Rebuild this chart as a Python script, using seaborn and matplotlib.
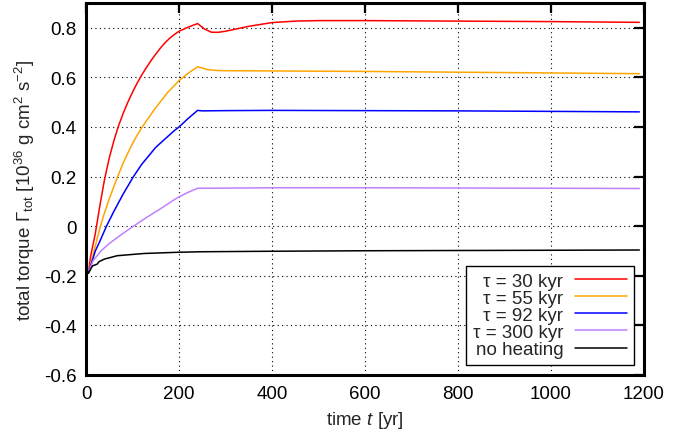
import pandas as pd
import seaborn as sns
import matplotlib.pyplot as plt

# values (time in yr, torque in 1e36 g cm^2 s^-2)
t_red = [0, 5, 10, 20, 30, 40, 50, 60, 70, 80, 90, 100, 110, 120, 130, 140, 150, 160,
         170, 180, 190, 200, 220, 240, 255, 270, 285, 300, 350, 400, 450, 500, 600, 800,
         1000, 1190]
v_red = [-0.16, -0.19, -0.12, -0.03, 0.085, 0.19, 0.275, 0.345, 0.405, 0.455, 0.50, 0.54,
         0.577, 0.61, 0.64, 0.668, 0.694, 0.718, 0.74, 0.758, 0.773, 0.786, 0.803, 0.817,
         0.795, 0.782, 0.782, 0.786, 0.806, 0.821, 0.827, 0.829, 0.829, 0.827, 0.825,
         0.822]

t_orange = [0, 5, 20, 31, 40, 50, 60, 67, 80, 90, 100, 110, 121, 132, 150, 175, 200, 220,
            240, 250, 260, 280, 300, 400, 600, 800, 1000, 1190]
v_orange = [-0.16, -0.19, -0.08, 0.0, 0.055, 0.11, 0.16, 0.195, 0.255, 0.295, 0.333,
            0.367, 0.40, 0.43, 0.478, 0.538, 0.587, 0.617, 0.643, 0.638, 0.632, 0.628,
            0.627, 0.626, 0.624, 0.621, 0.618, 0.615]

t_blue = [0, 5, 20, 30, 44, 60, 80, 102, 120, 150, 189, 200, 220, 240,
          250, 300, 400, 600, 800, 1000, 1190]
v_blue = [-0.16, -0.19, -0.10, -0.06, 0.0, 0.06, 0.13, 0.20, 0.25, 0.318, 0.384, 0.40,
          0.435, 0.467, 0.465, 0.466, 0.467, 0.466, 0.465, 0.463, 0.461]

t_purple = [0, 5, 15, 32, 50, 75, 102, 130, 160, 189, 200, 220, 240, 260,
            400, 600, 800, 1000, 1190]
v_purple = [-0.12, -0.19, -0.14, -0.10, -0.07, -0.035, 0.0, 0.035, 0.07, 0.106, 0.118,
            0.137, 0.153, 0.153, 0.155, 0.155, 0.154, 0.153, 0.152]

t_black = [0, 5, 14, 24, 28, 39, 67, 125, 200, 250, 400, 600, 800, 1000, 1190]
v_black = [-0.16, -0.19, -0.16, -0.153, -0.143, -0.133, -0.119, -0.11, -0.105, -0.103,
           -0.101, -0.099, -0.098, -0.097, -0.096]

labels = ["τ = 30 kyr", "τ = 55 kyr", "τ = 92 kyr", "τ = 300 kyr", "no heating"]
colors = ["#ff0000", "#ffa500", "#0000ff", "#bf80ff", "#000000"]
series = [(t_red, v_red), (t_orange, v_orange), (t_blue, v_blue),
          (t_purple, v_purple), (t_black, v_black)]

sns.set_theme(style="white")
plt.rcParams['font.family'] = ['Liberation Sans', 'DejaVu Sans']
plt.rcParams['mathtext.fontset'] = 'custom'
plt.rcParams['mathtext.rm'] = 'Liberation Sans'
plt.rcParams['mathtext.it'] = 'Liberation Sans:italic'

fs = 13.5

fig = plt.figure(figsize=(6.91, 4.39), dpi=100)
ax = fig.add_axes([86 / 691, 63 / 439, 558 / 691, 372 / 439])

for (t, v), lab, col in zip(series, labels, colors):
    df = pd.DataFrame({"t": t, "v": v})
    sns.lineplot(data=df, x="t", y="v", color=col, label=lab, lw=1.1,
                 estimator=None, sort=False, ax=ax)

ax.set_xlim(0, 1200)
ax.set_ylim(-0.6, 0.9)
ax.set_xticks(range(0, 1201, 200))
ax.set_yticks([-0.6, -0.4, -0.2, 0, 0.2, 0.4, 0.6, 0.8])
ax.set_yticklabels(["-0.6", "-0.4", "-0.2", "0", "0.2", "0.4", "0.6", "0.8"])
ax.grid(True, color="black", linestyle=(0, (1, 3)), linewidth=0.8)
for s in ax.spines.values():
    s.set_linewidth(2.2)
    s.set_color("black")
ax.tick_params(direction="in", length=7, width=1.6, top=True, right=True,
               labelsize=fs, pad=7, colors="black")

ax.set_xlabel("time $t$ [yr]", fontsize=fs, labelpad=5)
ax.set_ylabel(r"total torque $\Gamma_{\rm tot}$ [10$^{36}$ g cm$^2$ s$^{-2}$]",
              fontsize=fs, labelpad=5)

leg = ax.legend(loc="lower right", markerfirst=False, fontsize=fs, frameon=True,
                fancybox=False, edgecolor="black", framealpha=1, handlelength=2.8,
                handletextpad=0.6, labelspacing=0.0, borderpad=0.35,
                borderaxespad=0.55)
leg.get_frame().set_linewidth(1.0)

fig.savefig("out.png", dpi=100)
